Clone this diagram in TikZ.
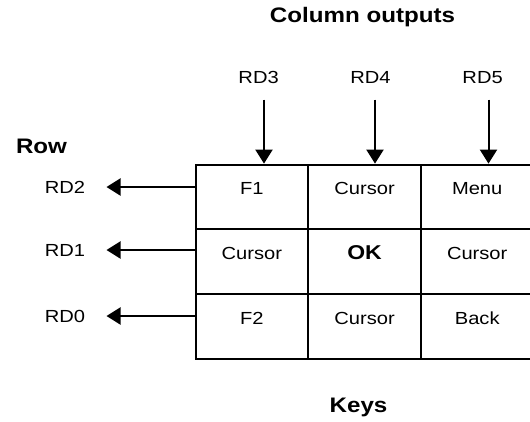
\documentclass[tikz,border=0pt]{standalone}
\usepackage{fontspec}
\setmainfont[FakeStretch=1.15]{Liberation Sans}
\usetikzlibrary{arrows.meta}
\definecolor{keyline}{RGB}{0, 0, 0}

\tikzset{
    keycell/.style   = {draw=keyline, line width=2pt, inner sep=0pt,
                        minimum width=112.7pt, minimum height=64.8pt,
                        text height=12.5pt, text depth=17pt,
                        font=\fontsize{17.5}{20}\selectfont},
    padlabel/.style  = {anchor=base, inner sep=0pt, font=\fontsize{17.5}{20}\selectfont},
    headlabel/.style = {anchor=base, inner sep=0pt, font=\bfseries\fontsize{21}{24}\selectfont},
    sigarrow/.style  = {draw=keyline, line width=2pt,
                        -{Triangle[length=14pt, width=17pt]}}
}

\begin{document}
\begin{tikzpicture}[x=1pt, y=-1pt]
            \useasboundingbox (0, 0) rectangle (530, 421);
            \clip             (0, 0) rectangle (530, 421);
            % Headings
            \node[headlabel] (colhead) at (362.5,  22.0) {Column outputs};
            \node[headlabel] (rowhead) at ( 41.5, 153.0) {Row};
            \node[headlabel] (keyhead) at (358.5, 412.0) {Keys};
            % Key pad
            \node[keycell] (f1)   at (251.9, 197.0) {F1};
            \node[keycell] (curn) at (364.6, 197.0) {Cursor};
            \node[keycell] (menu) at (477.2, 197.0) {Menu};
            \node[keycell] (curw) at (251.9, 261.6) {Cursor};
            \node[keycell] (ok)   at (364.6, 261.6) {\bfseries\fontsize{20}{22}\selectfont OK};
            \node[keycell] (cure) at (477.2, 261.6) {Cursor};
            \node[keycell] (f2)   at (251.9, 326.4) {F2};
            \node[keycell] (curs) at (364.6, 326.4) {Cursor};
            \node[keycell] (back) at (477.2, 326.4) {Back};
            % Column outputs
            \node[padlabel] (rd3) at (258.6, 83.0) {RD3};
            \node[padlabel] (rd4) at (370.5, 83.0) {RD4};
            \node[padlabel] (rd5) at (482.6, 83.0) {RD5};
            \coordinate (in3) at (264.0, 99.7);
            \coordinate (in4) at (375.0, 99.7);
            \coordinate (in5) at (488.5, 99.7);
            \draw[sigarrow] (in3) -- (in3 |- f1.north);
            \draw[sigarrow] (in4) -- (in4 |- curn.north);
            \draw[sigarrow] (in5) -- (in5 |- menu.north);
            % Row outputs
            \node[padlabel] (rd2) at (65.0, 193.5) {RD2};
            \node[padlabel] (rd1) at (65.0, 256.5) {RD1};
            \node[padlabel] (rd0) at (65.0, 322.5) {RD0};
            \coordinate (out2) at (106.5, 187.0);
            \coordinate (out1) at (106.5, 250.0);
            \coordinate (out0) at (106.5, 316.0);
            \draw[sigarrow] (f1.west   |- out2) -- (out2);
            \draw[sigarrow] (curw.west |- out1) -- (out1);
            \draw[sigarrow] (f2.west   |- out0) -- (out0);
        \end{tikzpicture}
\end{document}
